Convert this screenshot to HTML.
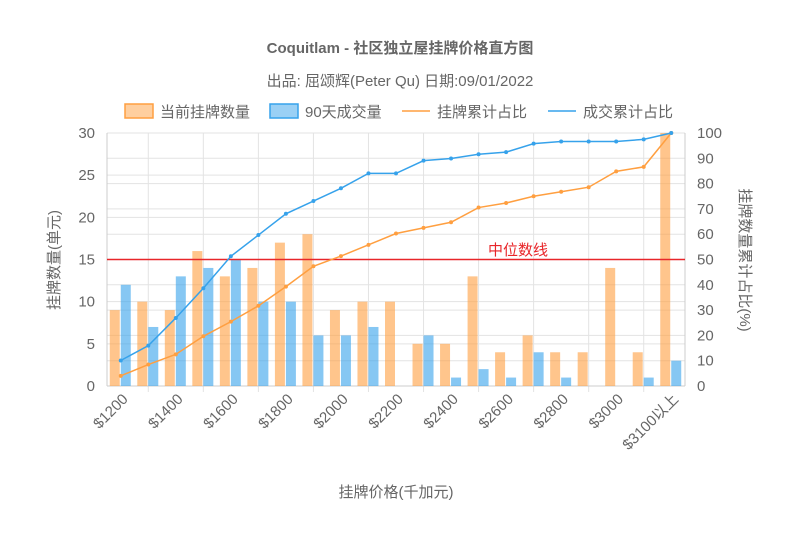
<!DOCTYPE html>
<html><head><meta charset="utf-8"><style>
body{margin:0;background:#fff;}
svg{font-family:"Liberation Sans","Noto Sans CJK SC",sans-serif;}
</style></head><body>
<svg id="chart" width="800" height="533" xmlns="http://www.w3.org/2000/svg"></svg>
<script>
const categories=["$1200","$1300","$1400","$1500","$1600","$1700","$1800","$1900","$2000","$2100","$2200","$2300","$2400","$2500","$2600","$2700","$2800","$2900","$3000","$3100","$3100以上"];
const listings=[9,10,9,16,13,14,17,18,9,10,10,5,5,13,4,6,4,4,14,4,30];
const sales=[12,7,13,14,15,10,10,6,6,7,0,6,1,2,1,4,1,0,0,1,3];
const leftTicks=[0,5,10,15,20,25,30];
const rightTicks=[0,10,20,30,40,50,60,70,80,90,100];
const medianValue=15;
function cum(a){const t=a.reduce((s,v)=>s+v,0);let c=0;return a.map(v=>{c+=v;return c/t*100;});}
const listCum=cum(listings), saleCum=cum(sales);
const NS="http://www.w3.org/2000/svg";
const svg=document.getElementById('chart');
const L=107,R=685,T=133,B=386;
const bw=(R-L)/categories.length;
const xc=i=>L+bw*(i+0.5);
const yL=v=>B-(v/30)*(B-T);
const yR=v=>B-(v/100)*(B-T);
function el(tag,attrs,parent){const e=document.createElementNS(NS,tag);for(const k in attrs)e.setAttribute(k,attrs[k]);(parent||svg).appendChild(e);return e;}
function txt(s,attrs,parent){const e=el('text',attrs,parent);e.textContent=s;return e;}
let t=txt("Coquitlam - 社区独立屋挂牌价格直方图",{x:400,y:53,'text-anchor':'middle','font-size':15,'font-weight':'bold',fill:'#666'});

t=txt("出品: 屈颂辉(Peter Qu) 日期:09/01/2022",{x:400,y:86,'text-anchor':'middle','font-size':15,fill:'#666'});

const lg=el('g',{});
const legend=[["当前挂牌数量",125,'box','rgba(255,159,64,0.5)','#ff9f40'],["90天成交量",270,'box','rgba(54,162,235,0.5)','#36a2eb'],["挂牌累计占比",402,'line','','#ff9f40'],["成交累计占比",548,'line','','#36a2eb']];
legend.forEach(d=>{const g=el('g',{},lg);
 if(d[2]=='box')el('rect',{x:d[1],y:104,width:28,height:14,fill:d[3],stroke:d[4],'stroke-width':1.5},g);
 else el('line',{x1:d[1],y1:111,x2:d[1]+28,y2:111,stroke:d[4],'stroke-width':1.5},g);
 txt(d[0],{x:d[1]+35,y:117,'font-size':15,fill:'#666'},g);});
const grid=el('g',{stroke:'#e3e3e3','stroke-width':1});
leftTicks.forEach(v=>el('line',{x1:L,x2:R,y1:yL(v),y2:yL(v)},grid));
rightTicks.forEach(v=>el('line',{x1:L,x2:R,y1:yR(v),y2:yR(v)},grid));
for(let i=1;i<categories.length;i+=2)el('line',{x1:xc(i),x2:xc(i),y1:T,y2:B+6},grid);
el('line',{x1:L,x2:L,y1:T,y2:B,stroke:'#ccc'});el('line',{x1:R,x2:R,y1:T,y2:B,stroke:'#ccc'});
el('line',{x1:L,x2:R,y1:B,y2:B,stroke:'#ccc'});
leftTicks.forEach(v=>{const e=txt(v,{x:L-12,y:yL(v)+5,'text-anchor':'end','font-size':15,fill:'#666'});});
rightTicks.forEach(v=>{const e=txt(v,{x:R+12,y:yR(v)+5,'font-size':15,fill:'#666'});});
categories.forEach((c,i)=>{if(i%2)return;const x=xc(i)+8,y=B+14;const e=txt(c,{x:x,y:y,'text-anchor':'end','font-size':15,fill:'#666',transform:`rotate(-45 ${x} ${y})`});});
categories.forEach((c,i)=>{
 const b1=el('rect',{x:xc(i)-11,y:yL(listings[i]),width:10,height:B-yL(listings[i]),fill:'rgba(255,159,64,0.6)'});
 
 const b2=el('rect',{x:xc(i),y:yL(sales[i]),width:10,height:B-yL(sales[i]),fill:'rgba(54,162,235,0.6)'});
 
});
const ml=el('line',{x1:L,x2:R,y1:yL(medianValue),y2:yL(medianValue),stroke:'#e8262a','stroke-width':1.5});

t=txt("中位数线",{x:518,y:255,'text-anchor':'middle','font-size':15,fill:'#e8262a'});

[[listCum,'#ff9f40','listing-cumulative-line'],[saleCum,'#36a2eb','sales-cumulative-line']].forEach(s=>{
 const p=el('polyline',{points:s[0].map((v,i)=>xc(i)+','+yR(v)).join(' '),fill:'none',stroke:s[1],'stroke-width':1.5});
 
 s[0].forEach((v,i)=>{const c=el('circle',{cx:xc(i),cy:yR(v),r:2,fill:s[1]});});
});
t=txt("挂牌数量(单元)",{x:59,y:260,'text-anchor':'middle','font-size':15,fill:'#666',transform:'rotate(-90 59 260)'});

t=txt("挂牌数量累计占比(%)",{x:740,y:260,'text-anchor':'middle','font-size':15,fill:'#666',transform:'rotate(90 740 260)'});

t=txt("挂牌价格(千加元)",{x:396,y:497,'text-anchor':'middle','font-size':15,fill:'#666'});

</script>
</body></html>
